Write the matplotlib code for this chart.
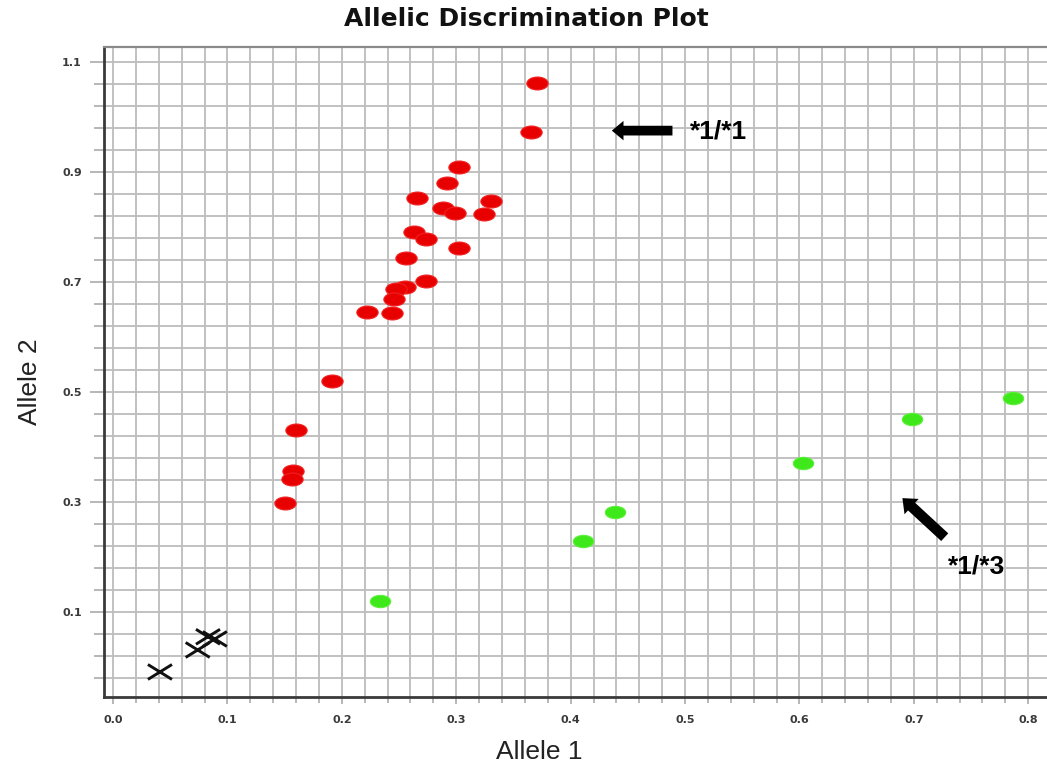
import numpy as np
import matplotlib
matplotlib.use("Agg")
import matplotlib.pyplot as plt
from matplotlib.path import Path
from matplotlib.transforms import Affine2D
from matplotlib.ticker import FixedLocator

# Genotype clusters (Allele 1 signal, Allele 2 signal)
homo11_x = [0.371, 0.365, 0.302, 0.292, 0.266, 0.330, 0.288, 0.299, 0.324, 0.263,
            0.274, 0.302, 0.256, 0.274, 0.255, 0.247, 0.246, 0.222, 0.244, 0.191,
            0.160, 0.157, 0.156, 0.150]
homo11_y = [1.062, 0.973, 0.909, 0.880, 0.853, 0.847, 0.835, 0.825, 0.824, 0.791,
            0.778, 0.762, 0.744, 0.702, 0.691, 0.687, 0.669, 0.645, 0.644, 0.520,
            0.431, 0.356, 0.342, 0.298]

het13_x = [0.233, 0.411, 0.439, 0.603, 0.698, 0.787]
het13_y = [0.120, 0.229, 0.282, 0.371, 0.451, 0.489]

ntc_x = [0.041, 0.074, 0.083, 0.089]
ntc_y = [-0.009, 0.031, 0.055, 0.051]

x_ticks = [0.0, 0.1, 0.2, 0.3, 0.4, 0.5, 0.6, 0.7, 0.8]
x_ticklabels = ["0.0", "0.1", "0.2", "0.3", "0.4", "0.5", "0.6", "0.7", "0.8"]
y_ticks = [0.1, 0.3, 0.5, 0.7, 0.9, 1.1]
y_ticklabels = ["0.1", "0.3", "0.5", "0.7", "0.9", "1.1"]

fig = plt.figure(figsize=(10.47, 7.71), dpi=100)
ax = fig.add_axes([104 / 1047, 1 - 697 / 771, 1 - 104 / 1047, 650 / 771])
ax.set_xlim(-0.0079, 0.8164)
ax.set_ylim(-0.0545, 1.127)

# Fine grid: every 0.02 on x, every 0.04 on y
x_minor = np.round(np.arange(0.0, 0.82, 0.02), 3)
y_minor = np.round(np.arange(1.1, -0.03, -0.04), 3)
ax.xaxis.set_major_locator(FixedLocator(x_ticks))
ax.xaxis.set_minor_locator(FixedLocator(x_minor))
ax.yaxis.set_major_locator(FixedLocator(y_ticks))
ax.yaxis.set_minor_locator(FixedLocator(y_minor))
ax.set_xticklabels(x_ticklabels)
ax.set_yticklabels(y_ticklabels)
ax.grid(True, which="both", color="#bebebe", linewidth=1.35, zorder=0)
ax.set_axisbelow(True)

ax.tick_params(axis="y", which="major", length=10, width=1.2, color="#aaaaaa",
               pad=6, labelsize=8, labelcolor="#3a3a3a")
ax.tick_params(axis="y", which="minor", length=7, width=1.2, color="#aaaaaa")
ax.tick_params(axis="x", which="major", length=5, width=1.2, color="#aaaaaa",
               pad=8, labelsize=8, labelcolor="#3a3a3a")
ax.tick_params(axis="x", which="minor", length=4, width=1.2, color="#aaaaaa")
for lab in ax.get_xticklabels() + ax.get_yticklabels():
    lab.set_fontweight("bold")
    lab.set_family("DejaVu Sans")

for side in ("left", "bottom"):
    ax.spines[side].set_color("#3a3a3a")
    ax.spines[side].set_linewidth(2.0)
ax.spines["top"].set_color("#8a8a8a")
ax.spines["top"].set_linewidth(1.6)
ax.spines["right"].set_visible(False)

# Marker shapes: flat ellipse for called genotypes, flattened cross for NTCs
ellipse = Path.unit_circle().transformed(Affine2D().scale(1.65, 1.0))
cross = Path([(-1.0, -0.62), (1.0, 0.62), (-1.0, 0.62), (1.0, -0.62)],
             [Path.MOVETO, Path.LINETO, Path.MOVETO, Path.LINETO])

ax.scatter(homo11_x, homo11_y, marker=ellipse, s=235, color="#e80000",
           edgecolors="#f22020", linewidths=0.8, zorder=3)
ax.scatter(het13_x, het13_y, marker=ellipse, s=215, color="#3ee81a",
           edgecolors="#5cf03a", linewidths=0.8, zorder=3)
ax.scatter(ntc_x, ntc_y, marker=cross, s=300, facecolors="none",
           edgecolors="#111111", linewidths=2.1, zorder=3)

# Cluster call annotations
arrow_style = "simple,head_length=0.6,head_width=1.0,tail_width=0.5"
ax.annotate("", xy=(0.436, 0.975), xytext=(0.489, 0.975),
            arrowprops=dict(arrowstyle=arrow_style, color="black", lw=0,
                            shrinkA=0, shrinkB=0, mutation_scale=14), zorder=4)
ax.text(0.504, 0.973, "*1/*1", fontsize=19, fontweight="bold",
        family="Liberation Sans", ha="left", va="center", zorder=4)

ax.annotate("", xy=(0.690, 0.307), xytext=(0.727, 0.236),
            arrowprops=dict(arrowstyle=arrow_style, color="black", lw=0,
                            shrinkA=0, shrinkB=0, mutation_scale=15), zorder=4)
ax.text(0.730, 0.182, "*1/*3", fontsize=19, fontweight="bold",
        family="Liberation Sans", ha="left", va="center", zorder=4)

ax.set_xlabel("Allele 1", fontsize=19, family="Liberation Sans", color="#222222")
ax.xaxis.label.set_va("center")
ax.xaxis.set_label_coords(0.462, -0.0846)
ax.set_ylabel("Allele 2", fontsize=19, family="Liberation Sans", color="#222222")
ax.yaxis.label.set_va("center")
ax.yaxis.set_label_coords(-0.0785, 0.485)

fig.text(526 / 1047, 1 - 19 / 771, "Allelic Discrimination Plot", fontsize=18,
         fontweight="heavy", family="DejaVu Sans", ha="center", va="center",
         color="#111111")

fig.savefig("out.png", dpi=100)
